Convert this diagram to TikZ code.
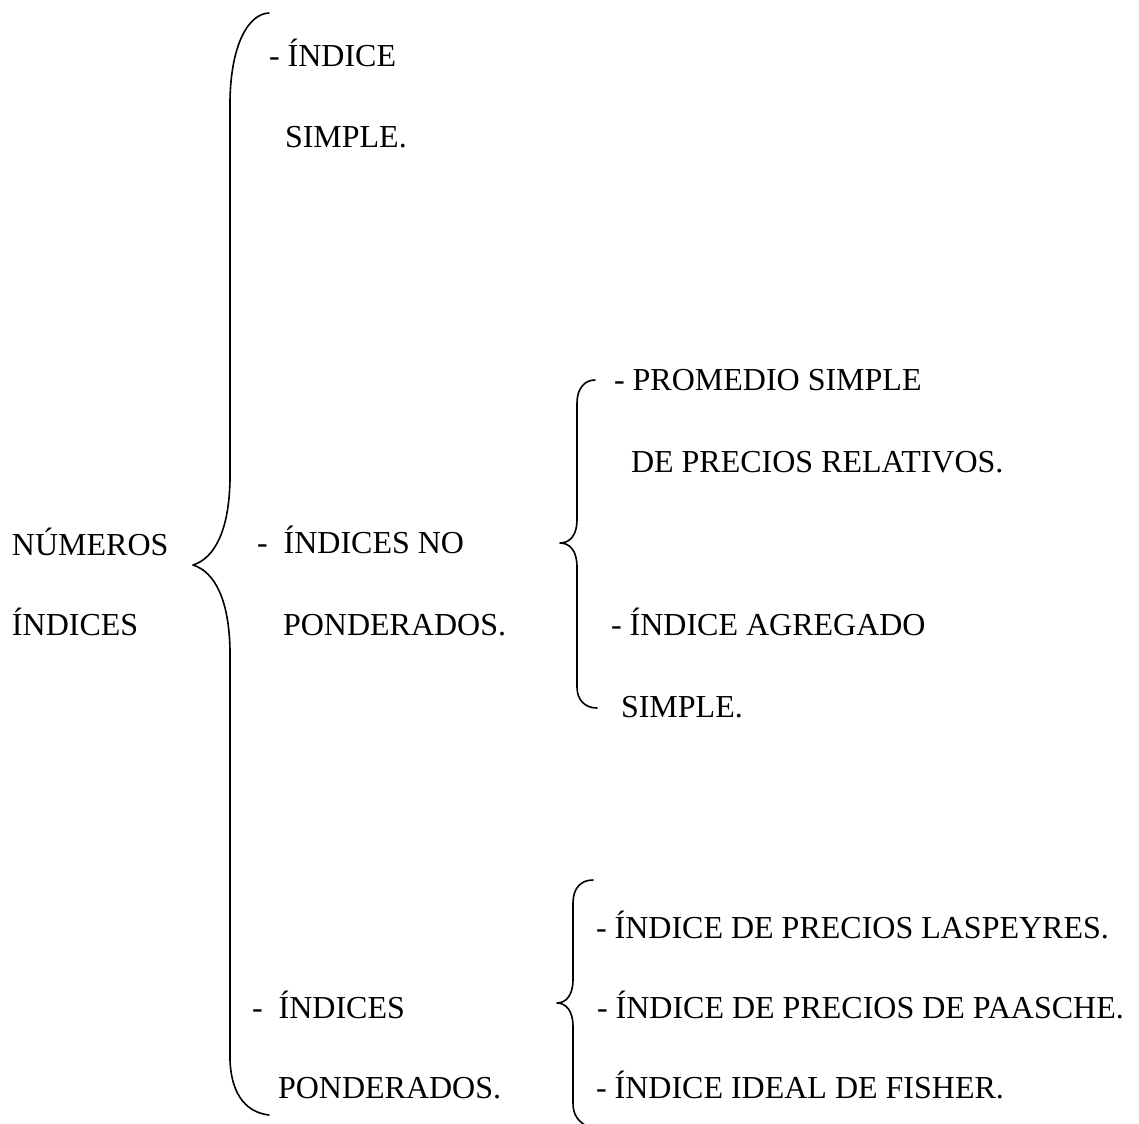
\documentclass[tikz,border=0pt]{standalone}
\usepackage{fontspec}
\setmainfont{Liberation Serif}
\begin{document}
\begin{tikzpicture}[x=1pt,y=-1pt,
  lbl/.style={anchor=base west,inner sep=0pt,outer sep=0pt,font=\fontsize{32}{36}\selectfont},
  brace/.style={line width=1.6pt,line cap=round,line join=round}]
\useasboundingbox (0,0) rectangle (1139,1123);
% left label
\node[lbl] (n1) at (12,555) {NÚMEROS};
\node[lbl] (n2) at (12,635) {ÍNDICES};
% first level
\node[lbl] (a1) at (269,67) {- ÍNDICE};
\node[lbl] (a2) at (285,148) {SIMPLE.};
\node[lbl] (b1) at (257,553) {-\hspace{16pt}ÍNDICES NO};
\node[lbl] (b2) at (283,635) {PONDERADOS.};
\node[lbl] (c1) at (252,1018) {-\hspace{16pt}ÍNDICES};
\node[lbl] (c2) at (278,1098) {PONDERADOS.};
% second level (no ponderados)
\node[lbl] (d1) at (614,390) {- PROMEDIO SIMPLE};
\node[lbl] (d2) at (631,472) {DE PRECIOS RELATIVOS.};
\node[lbl] (e1) at (611,635) {- ÍNDICE AGREGADO};
\node[lbl] (e2) at (621,717) {SIMPLE.};
% second level (ponderados)
\node[lbl] (f1) at (596,938) {- ÍNDICE DE PRECIOS LASPEYRES.};
\node[lbl] (f2) at (597,1018) {- ÍNDICE DE PRECIOS DE PAASCHE.};
\node[lbl] (f3) at (596,1098) {- ÍNDICE IDEAL DE FISHER.};
% big brace
\draw[brace] (269,13) .. controls (248,14) and (231,45) .. (230,100)
  -- (230,480) .. controls (229,530) and (215,558) .. (193,565)
  .. controls (215,572) and (229,600) .. (230,650)
  -- (230,1060) .. controls (231,1090) and (243,1112) .. (269,1115);
% middle brace
\draw[brace] (595,380) .. controls (585,380) and (577,388) .. (577,403)
  -- (577,520) .. controls (577,535) and (570,543) .. (560,543)
  .. controls (570,543) and (577,551) .. (577,567)
  -- (577,687) .. controls (577,700) and (585,708) .. (597,708);
% lower brace
\draw[brace] (593,880) .. controls (581,880) and (573,888) .. (573,903)
  -- (573,980) .. controls (573,995) and (566,1003) .. (557,1003)
  .. controls (566,1003) and (573,1011) .. (573,1026)
  -- (573,1103) .. controls (573,1115) and (578,1122) .. (590,1128);
\end{tikzpicture}
\end{document}
